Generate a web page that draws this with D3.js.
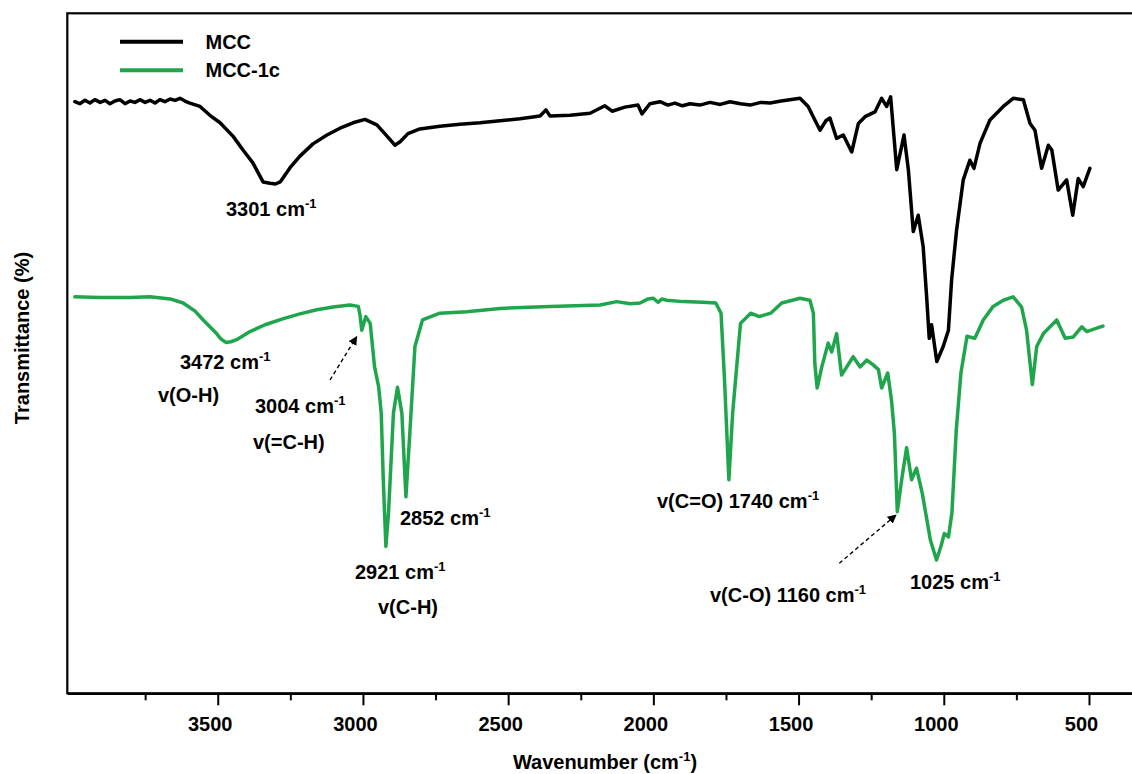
<!DOCTYPE html>
<html>
<head>
<meta charset="utf-8">
<script src="https://cdn.jsdelivr.net/npm/d3@7"></script>
<style>
  html, body { margin: 0; padding: 0; background: #fff; }
  svg { display: block; }
  text { font-family: "Liberation Sans", Arial, sans-serif; font-weight: bold; fill: #000; }
</style>
</head>
<body>
<svg id="chart" width="1132" height="774"></svg>
<script>
// FTIR spectra: [wavenumber (cm-1), transmittance (%, offset for stacking)]
const seriesNames = ["MCC", "MCC-1c"];
const seriesColors = ["#000000", "#1fa64c"];

const mccSpectrum = [
  [3992,87.0],[3975,86.7],[3957,87.2],[3940,86.8],[3923,87.3],[3905,86.9],[3888,87.2],[3871,86.7],
  [3854,87.1],[3837,87.3],[3819,86.7],[3802,87.1],[3785,86.9],[3768,87.3],[3750,86.9],[3733,87.2],
  [3716,86.8],[3699,87.3],[3682,87.0],[3664,87.4],[3647,87.2],[3630,87.5],[3613,87.1],[3596,86.8],
  [3561,86.3],[3527,85.0],[3492,83.9],[3447,81.9],[3413,79.9],[3379,78.0],[3344,75.2],[3320,75.0],
  [3301,74.9],[3285,75.2],[3251,77.3],[3217,79.0],[3172,80.8],[3124,82.1],[3079,83.1],[3034,83.9],
  [2993,84.4],[2952,83.6],[2914,81.8],[2890,80.6],[2872,81.1],[2845,82.3],[2804,83.0],[2735,83.4],
  [2666,83.7],[2597,83.9],[2528,84.2],[2459,84.5],[2390,84.9],[2370,85.8],[2356,84.9],[2287,85.0],
  [2218,85.3],[2167,86.4],[2142,85.6],[2098,86.2],[2053,86.5],[2039,85.2],[2012,86.7],[1977,87.0],
  [1950,86.5],[1926,86.8],[1900,86.4],[1874,86.7],[1840,86.5],[1805,86.9],[1770,86.6],[1736,87.0],
  [1700,86.7],[1667,86.5],[1630,86.9],[1598,86.8],[1560,87.1],[1530,87.3],[1495,87.5],[1467,86.3],
  [1444,84.3],[1426,82.8],[1406,84.2],[1392,84.6],[1369,81.6],[1346,82.1],[1317,79.6],[1294,83.8],
  [1271,84.8],[1237,85.5],[1214,87.5],[1197,86.3],[1183,87.7],[1162,77.0],[1137,82.1],[1122,77.0],
  [1105,67.9],[1088,70.3],[1071,65.7],[1059,58.3],[1050,52.2],[1042,54.2],[1024,48.8],[1002,51.0],
  [984,53.4],[973,60.8],[956,68.1],[933,75.5],[910,78.4],[896,77.2],[875,80.9],[841,84.3],
  [795,86.3],[761,87.5],[726,87.3],[703,83.8],[686,82.8],[663,77.2],[640,80.6],[628,79.9],
  [606,74.0],[577,75.5],[556,70.3],[537,75.7],[520,74.5],[497,77.2]
];

const mcc1cSpectrum = [
  [3992,58.3],[3905,58.2],[3802,58.2],[3733,58.3],[3664,58.0],[3619,57.4],[3578,56.2],[3550,54.9],
  [3527,53.9],[3504,52.9],[3489,52.1],[3472,51.6],[3455,51.7],[3435,52.0],[3389,53.2],[3337,54.2],
  [3274,55.1],[3217,55.8],[3159,56.4],[3103,56.8],[3045,57.1],[3016,56.9],[3010,55.6],[3004,53.4],
  [2990,55.4],[2975,54.4],[2960,48.0],[2946,45.1],[2937,41.2],[2930,31.4],[2921,21.6],[2912,26.5],
  [2895,41.2],[2881,45.0],[2866,41.2],[2852,28.9],[2838,38.7],[2821,51.0],[2795,54.9],[2735,55.9],
  [2643,56.1],[2528,56.6],[2356,56.9],[2184,57.1],[2126,57.6],[2080,57.3],[2046,57.4],[2018,58.0],
  [2000,58.1],[1984,57.5],[1970,58.0],[1954,57.8],[1897,57.6],[1830,57.5],[1785,57.4],[1767,55.9],
  [1755,46.1],[1740,31.4],[1727,41.2],[1700,54.4],[1665,55.9],[1635,55.4],[1596,55.9],[1558,57.4],
  [1495,58.1],[1461,57.8],[1449,55.9],[1444,48.5],[1436,44.9],[1420,48.0],[1398,51.5],[1386,50.2],
  [1369,52.9],[1352,46.8],[1334,48.0],[1312,49.5],[1288,48.0],[1265,49.0],[1243,48.3],[1225,47.6],
  [1214,44.9],[1193,47.1],[1180,43.1],[1170,38.2],[1160,26.7],[1145,31.4],[1128,36.1],[1111,31.4],
  [1094,33.1],[1074,29.4],[1046,22.5],[1025,19.6],[1010,21.6],[998,23.5],[984,23.0],[972,26.5],
  [957,38.7],[941,47.1],[920,52.5],[893,52.2],[864,54.9],[830,56.9],[795,57.8],[761,58.3],
  [732,56.8],[715,53.4],[695,45.4],[680,51.0],[657,52.9],[634,53.9],[611,54.9],[582,52.2],
  [554,52.4],[525,53.9],[508,53.2],[473,53.7],[452,54.0]
];

const majorTicks = [3500, 3000, 2500, 2000, 1500, 1000, 500];
const minorTicks = [3750, 3250, 2750, 2250, 1750, 1250, 750];
const xDomain = [4018, 345];
const yDomain = [0, 100];

// ---- layout ----
const svg = d3.select("#chart");
const plot = { left: 67.3, right: 1134, top: 13.3, bottom: 693.3 };

const x = d3.scaleLinear().domain(xDomain).range([plot.left, plot.right]);
const y = d3.scaleLinear().domain(yDomain).range([plot.bottom, plot.top]);

// plot frame
svg.append("rect")
  .attr("x", plot.left).attr("y", plot.top)
  .attr("width", plot.right - plot.left).attr("height", plot.bottom - plot.top)
  .attr("fill", "none").attr("stroke", "#000").attr("stroke-width", 2.2);

// bottom axis: major ticks with labels, minor ticks without
const xAxis = d3.axisBottom(x).tickValues(majorTicks).tickSize(12).tickSizeOuter(0).tickPadding(14)
  .tickFormat(d3.format("d"));
const gx = svg.append("g").attr("transform", `translate(0,${plot.bottom})`).call(xAxis);
gx.select(".domain").attr("stroke", "#000").attr("stroke-width", 2.2);
gx.selectAll(".tick line").attr("stroke", "#000").attr("stroke-width", 2);
gx.selectAll(".tick text").attr("font-size", 20).attr("dx", -8).attr("dy", "0.6em")
  .style("font-family", '"Liberation Sans", Arial, sans-serif').style("font-weight", "bold").attr("fill", "#000");

const xMinor = d3.axisBottom(x).tickValues(minorTicks).tickSize(7).tickFormat("");
const gm = svg.append("g").attr("transform", `translate(0,${plot.bottom})`).call(xMinor);
gm.select(".domain").remove();
gm.selectAll(".tick line").attr("stroke", "#000").attr("stroke-width", 2);

// spectra
const line = d3.line().x(d => x(d[0])).y(d => y(d[1])).curve(d3.curveLinear);
[[mcc1cSpectrum, seriesColors[1]], [mccSpectrum, seriesColors[0]]].forEach(([data, color]) => {
  svg.append("path").datum(data)
    .attr("d", line).attr("fill", "none")
    .attr("stroke", color).attr("stroke-width", 3.5)
    .attr("stroke-linejoin", "round").attr("stroke-linecap", "round");
});

// legend
seriesNames.forEach((name, i) => {
  const ly = 41.7 + i * 28.5;
  svg.append("line").attr("x1", 120).attr("x2", 183).attr("y1", ly).attr("y2", ly)
    .attr("stroke", seriesColors[i]).attr("stroke-width", 4);
  svg.append("text").attr("x", 205.5).attr("y", ly + 7).attr("font-size", 20).text(name);
});

// text with a superscripted exponent
function labelWithSup(px, py, pre, sup, post, anchor) {
  const t = svg.append("text").attr("x", px).attr("y", py).attr("font-size", 20)
    .attr("text-anchor", anchor || "start");
  t.append("tspan").text(pre);
  if (sup) t.append("tspan").attr("dy", -8).attr("font-size", 13).text(sup);
  if (post) t.append("tspan").attr("dy", 8).attr("font-size", 20).text(post);
  return t;
}

// peak annotations
const notes = [
  { pre: "3301 cm", sup: "-1", px: 226, py: 216 },
  { pre: "3472 cm", sup: "-1", px: 180, py: 369 },
  { pre: "v(O-H)", px: 158, py: 402 },
  { pre: "3004 cm", sup: "-1", px: 255, py: 413 },
  { pre: "v(=C-H)", px: 253, py: 449 },
  { pre: "2852 cm", sup: "-1", px: 400, py: 525 },
  { pre: "2921 cm", sup: "-1", px: 355, py: 579 },
  { pre: "v(C-H)", px: 378, py: 614 },
  { pre: "v(C=O) 1740 cm", sup: "-1", px: 657, py: 508 },
  { pre: "v(C-O) 1160 cm", sup: "-1", px: 710, py: 602 },
  { pre: "1025 cm", sup: "-1", px: 910, py: 589 }
];
notes.forEach(n => labelWithSup(n.px, n.py, n.pre, n.sup));

// dashed pointer arrows
svg.append("defs").append("marker")
  .attr("id", "head").attr("viewBox", "0 0 10 10").attr("refX", 9).attr("refY", 5)
  .attr("markerWidth", 9).attr("markerHeight", 9).attr("markerUnits", "userSpaceOnUse")
  .attr("orient", "auto")
  .append("path").attr("d", "M0,0 L10,5 L0,10 Z").attr("fill", "#000");
[[330, 380, 356.7, 336.7], [839.3, 563.3, 896, 515]].forEach(a => {
  svg.append("line").attr("x1", a[0]).attr("y1", a[1]).attr("x2", a[2]).attr("y2", a[3])
    .attr("stroke", "#000").attr("stroke-width", 1.4).attr("stroke-dasharray", "4,3")
    .attr("marker-end", "url(#head)");
});

// axis titles
labelWithSup(605, 769, "Wavenumber (cm", "-1", ")", "middle");
svg.append("text").attr("transform", "translate(29,338) rotate(-90)")
  .attr("text-anchor", "middle").attr("font-size", 20).text("Transmittance (%)");
</script>
</body>
</html>
